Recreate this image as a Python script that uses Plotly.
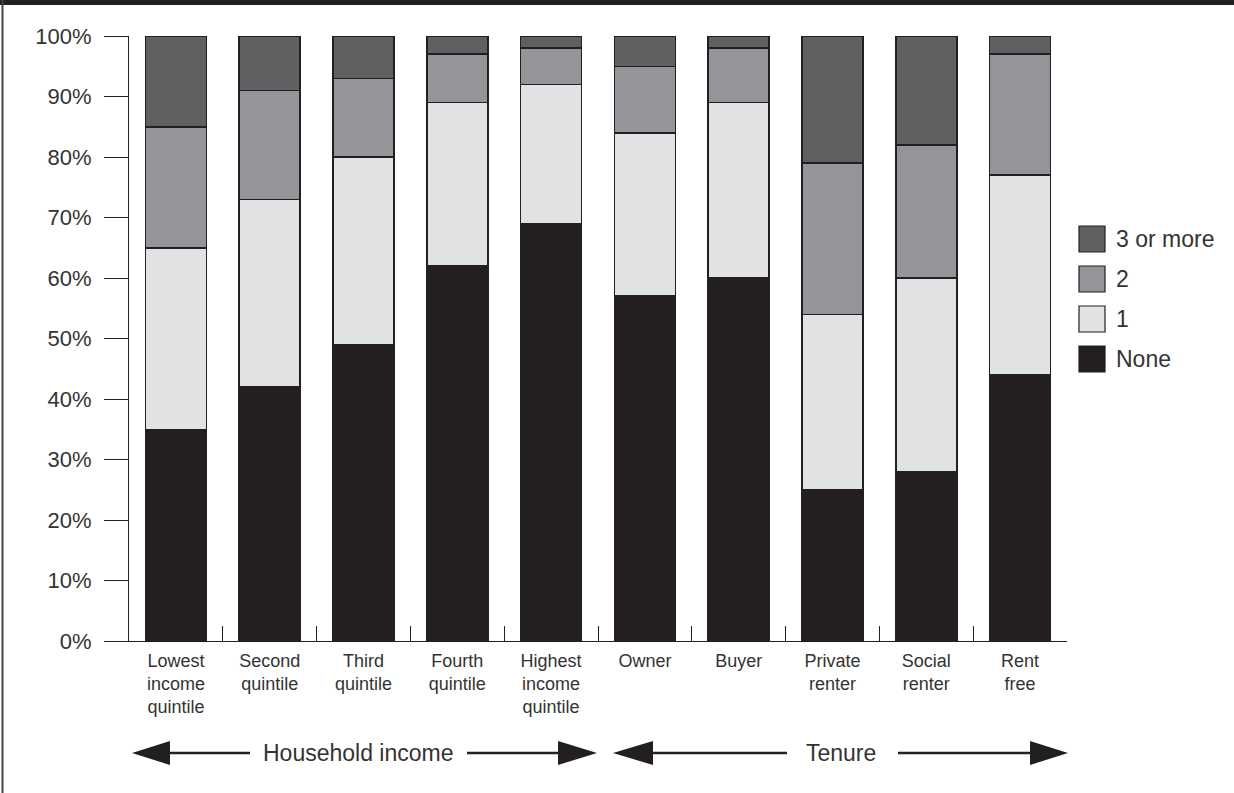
import plotly.graph_objects as go

categories = ["Lowest<br>income<br>quintile", "Second<br>quintile", "Third<br>quintile",
              "Fourth<br>quintile", "Highest<br>income<br>quintile", "Owner", "Buyer",
              "Private<br>renter", "Social<br>renter", "Rent<br>free"]
series_names = ["None", "1", "2", "3 or more"]
none_vals = [35, 42, 49, 62, 69, 57, 60, 25, 28, 44]
one_vals = [30, 31, 31, 27, 23, 27, 29, 29, 32, 33]
two_vals = [20, 18, 13, 8, 6, 11, 9, 25, 22, 20]
three_vals = [15, 9, 7, 3, 2, 5, 2, 21, 18, 3]
colors = ["#231f20", "#e1e2e3", "#939598", "#5f6062"]
y_ticks = [0, 10, 20, 30, 40, 50, 60, 70, 80, 90, 100]
group_labels = ["Household income", "Tenure"]

W, H = 1234, 793
L, R, T, B = 129, 1067, 36, 641
INK = "#231f20"
TXT = "#333333"
FONT = "Liberation Sans, Arial, sans-serif"


def px(x):
    return (x - L) / (R - L)


def py(y):
    return (B - y) / (B - T)


fig = go.Figure()
for name, vals, col in zip(series_names, [none_vals, one_vals, two_vals, three_vals], colors):
    fig.add_trace(go.Bar(x=categories, y=vals, name=name, marker=dict(color=col, line=dict(color=INK, width=1.5)),
                         showlegend=False))

shapes = []
annotations = []
# top band and left border
shapes.append(dict(type="rect", xref="paper", yref="paper", x0=px(0), x1=px(W), y0=py(5), y1=py(-2),
                   fillcolor=INK, line=dict(width=0), layer="above"))
shapes.append(dict(type="line", xref="paper", yref="paper", x0=px(2.5), x1=px(2.5), y0=py(0), y1=py(H + 2),
                   line=dict(color="#444", width=2)))

# manual legend
leg_y = [239, 279, 319, 359]
for yc, name, col in zip(leg_y, series_names[::-1], colors[::-1]):
    shapes.append(dict(type="rect", xref="paper", yref="paper", x0=px(1079), x1=px(1105),
                       y0=py(yc + 13), y1=py(yc - 13), fillcolor=col, line=dict(color=INK, width=1.2)))
    annotations.append(dict(xref="paper", yref="paper", x=px(1114), y=py(yc), text=name, showarrow=False,
                            xanchor="left", yanchor="middle", font=dict(size=23, color=TXT, family=FONT)))

# arrows
ay = 753


def arrow(x_tip_left, x_base_left, x_line1_end, x_line2_start, x_base_right, x_tip_right, text, xtext):
    shapes.append(dict(type="path", xref="paper", yref="paper",
                       path=f"M {px(x_tip_left)} {py(ay)} L {px(x_base_left)} {py(ay - 12)} L {px(x_base_left)} {py(ay + 12)} Z",
                       fillcolor=INK, line=dict(width=0)))
    shapes.append(dict(type="path", xref="paper", yref="paper",
                       path=f"M {px(x_tip_right)} {py(ay)} L {px(x_base_right)} {py(ay - 12)} L {px(x_base_right)} {py(ay + 12)} Z",
                       fillcolor=INK, line=dict(width=0)))
    shapes.append(dict(type="line", xref="paper", yref="paper", x0=px(x_base_left), x1=px(x_line1_end),
                       y0=py(ay), y1=py(ay), line=dict(color=INK, width=2.5)))
    shapes.append(dict(type="line", xref="paper", yref="paper", x0=px(x_line2_start), x1=px(x_base_right),
                       y0=py(ay), y1=py(ay), line=dict(color=INK, width=2.5)))
    annotations.append(dict(xref="paper", yref="paper", x=px(xtext), y=py(ay), text=text, showarrow=False,
                            xanchor="center", yanchor="middle", font=dict(size=23, color=TXT, family=FONT)))


arrow(132, 170, 250, 467, 558, 597, group_labels[0], 358)
arrow(613, 653, 787, 898, 1030, 1068, group_labels[1], 841)

fig.update_layout(
    barmode="stack", bargap=0.35,
    width=W, height=H,
    margin=dict(l=L, r=W - R, t=T, b=H - B, pad=0),
    paper_bgcolor="white", plot_bgcolor="white",
    font=dict(family=FONT, color=TXT),
    shapes=shapes, annotations=annotations,
    xaxis=dict(type="category", tickson="boundaries", ticks="inside", ticklen=15, tickcolor=INK, tickwidth=1,
               showline=True, linecolor=INK, linewidth=1, showgrid=False, tickfont=dict(size=18, color=TXT),
               tickangle=0, ticklabelstandoff=3),
    yaxis=dict(range=[0, 100], tickvals=y_ticks, ticktext=[f"{v}%" for v in y_ticks], ticks="outside",
               ticklen=24, tickcolor=INK, tickwidth=1, showline=True, linecolor=INK, linewidth=1,
               showgrid=False, zeroline=False, tickfont=dict(size=22, color=TXT), ticklabelstandoff=8),
)

fig.write_html("out.html", post_script="document.body.style.margin='0px';document.body.style.overflow='hidden';",
               config={"displayModeBar": False})
